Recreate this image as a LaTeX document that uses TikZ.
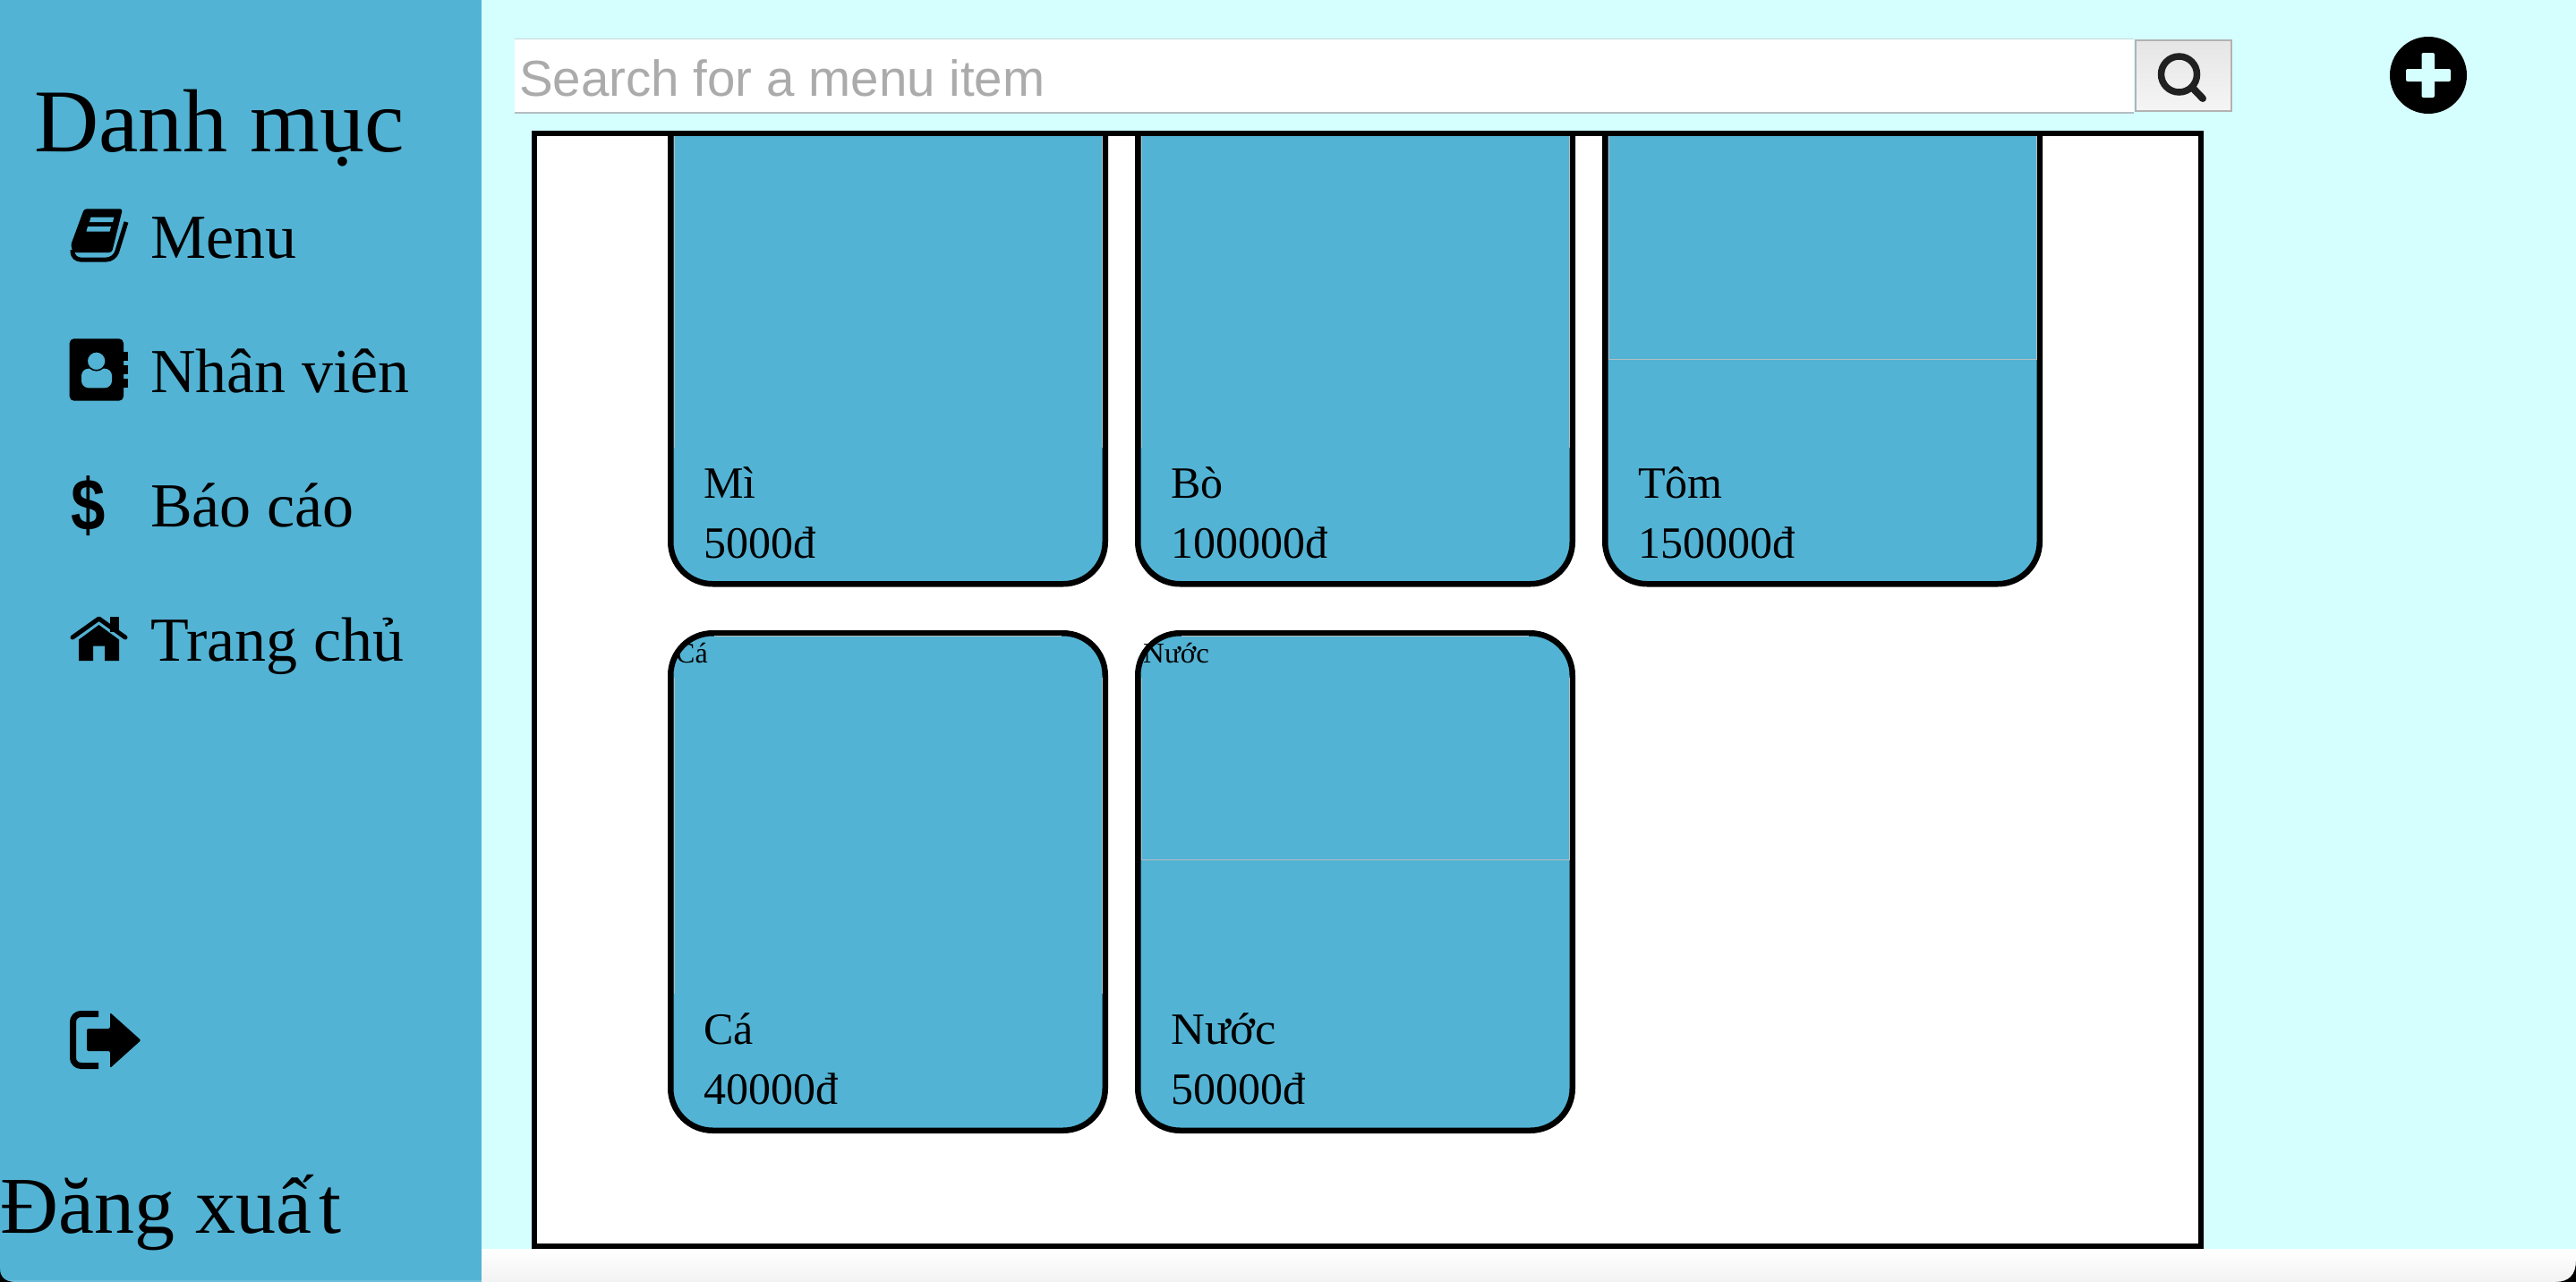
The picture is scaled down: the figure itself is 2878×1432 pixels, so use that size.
\documentclass[tikz,border=0pt]{standalone}
\usepackage{fontspec}
\usepackage{tikz}
\setmainfont{Liberation Serif}
\newfontfamily\searchfont{Liberation Sans}
\definecolor{pagebg}{HTML}{D5FFFF}
\definecolor{sideblue}{HTML}{53B3D4}
\definecolor{edgegray}{HTML}{B4BEC2}
\tikzset{
  bigtext/.style={font=\fontsize{100}{100}\selectfont, anchor=base west, inner sep=0pt},
  menutext/.style={font=\fontsize{70}{70}\selectfont, anchor=base west, inner sep=0pt},
  cardtext/.style={font=\fontsize{50}{50}\selectfont, anchor=base west, inner sep=0pt},
  alttext/.style={font=\fontsize{32}{32}\selectfont, anchor=base west, inner sep=0pt},
  menucard/.style={draw=black, line width=6.5pt, rounded corners=47pt, fill=sideblue,
    minimum width=485.5pt, minimum height=555.5pt, inner sep=0pt, outer sep=0pt},
  imgedge/.style={draw=edgegray, line width=1pt}
}

\begin{document}
\begin{tikzpicture}[x=1pt,y=-1pt]
  \useasboundingbox (0,0) rectangle (2878,1432);
  % Page and bottom strip
  \fill[pagebg] (0,0) rectangle (2878,1395);
  \shade[top color=white, bottom color=black!5] (538,1395) rectangle (2878,1432);
  \fill[black] (2878,1432) -- (2855,1432) .. controls (2870,1432) and (2878,1424) .. (2878,1408) -- cycle;

  % Sidebar
  \fill[sideblue] (0,0) rectangle (538,1432);
  \fill[sideblue!85!white] (0,1430) rectangle (538,1432);
  \fill[black] (0,1432) -- (15,1432) .. controls (5,1431) and (0,1426) .. (0,1417) -- cycle;
  \node[bigtext] (title) at (38,169) {Danh mục};
  \node[menutext] (menu) at (168,288) {Menu};
  \node[menutext] (staff) at (168,438) {Nhân viên};
  \node[menutext] (report) at (168,588) {Báo cáo};
  \node[menutext] (home) at (168,738) {Trang chủ};
  \node[bigtext, font=\fontsize{90}{90}\selectfont] (logout) at (0.5,1377) {Đăng xuấ\kern8pt t};

  % Book icon
  \fill[black, rounded corners=3pt] (94,233.3) -- (137,233.3) -- (125,282) -- (82,282) -- (79,274) -- cycle;
  \draw[black, line width=5pt, rounded corners=9pt] (81,279) -- (81,290) -- (128,290) -- (141,248);
  \fill[sideblue] (101.5,242.5) -- (127.5,242.5) -- (126,248) -- (100,248) -- cycle;
  \fill[sideblue] (98,253) -- (124,253) -- (122.5,258.5) -- (96.5,258.5) -- cycle;
  % Contact icon
  \fill[black, rounded corners=5pt] (77.7,378.3) rectangle (138,447.7);
  \fill[black] (136,393.3) rectangle (143,403.3);
  \fill[black] (136,408.3) rectangle (143,418.3);
  \fill[black] (136,423.3) rectangle (143,433.3);
  \fill[sideblue, rounded corners=8pt] (91,433.3) -- (91,411.7) -- (125,411.7) -- (125,433.3) -- cycle;
  \draw[black, fill=sideblue, line width=1.5pt] (107.7,403.3) circle (10.5pt);
  % Dollar icon
  \node[font={\searchfont\bfseries\fontsize{82}{82}\selectfont}, inner sep=0pt, xscale=0.84] (dollar) at (98.5,565) {\$};
  % House icon
  \fill[black] (122.5,689) rectangle (133,706);
  \draw[black, line width=5pt, line cap=round, line join=round] (81,712) -- (110.5,691) -- (140,712);
  \fill[black] (88,738) -- (88,714.5) -- (110.5,698) -- (133,714.5) -- (133,738) -- (117,738) -- (117,721.5) -- (104,721.5) -- (104,738) -- cycle;
  % Logout icon
  \draw[black, line width=7pt, rounded corners=9pt] (110,1132.5) -- (81.5,1132.5) -- (81.5,1190.5) -- (110,1190.5);
  \fill[black, rounded corners=2pt] (97,1149) -- (123,1149) -- (123,1131) -- (157.5,1162) -- (123,1193) -- (123,1174) -- (97,1174) -- cycle;

  % Search bar
  \node[fill=white, minimum width=1809pt, minimum height=83pt, inner sep=0pt, outer sep=0pt] (searchbox) at (1479.5,84.5) {};
  \draw[edgegray!60!pagebg, line width=1pt] (searchbox.north west) -- (searchbox.north east);
  \draw[edgegray, line width=1.5pt] (searchbox.south west) -- (searchbox.south east);
  \node[font={\searchfont\fontsize{56.5}{56.5}\selectfont}, text=black!33, anchor=base west, inner sep=0pt] (searchtext) at (580,107.5) {Search for a menu item};
  \node[draw=black!30, line width=2pt, top color=black!10, bottom color=black!4, minimum width=107pt, minimum height=79pt, inner sep=0pt, outer sep=0pt] (searchbtn) at (2439.5,84.5) {};
  \draw[black!87, line width=7.5pt] (2434.5,83) circle (20pt);
  \draw[black!87, line width=8pt, line cap=round] (2449,97.5) -- (2461,110);

  % Add button
  \fill[black] (2713,84) circle (43pt);
  \fill[pagebg, rounded corners=2pt] (2688,77) rectangle (2738,91);
  \fill[pagebg, rounded corners=2pt] (2705.5,59) rectangle (2720,109);

  % List box
  \node[draw=black, fill=white, line width=6pt, minimum width=1862pt, minimum height=1243pt, inner sep=0pt, outer sep=0pt] (listbox) at (1528,770.5) {};
  \begin{scope}
    \clip (600,152) rectangle (2456,1389);
    % Cards
    \node[menucard] (card_mi) at (992,374.5) {};
    \node[menucard] (card_bo) at (1514,374.5) {};
    \node[menucard] (card_tom) at (2036,374.5) {};
    \node[menucard] (card_ca) at (992,985) {};
    \node[menucard] (card_nuoc) at (1514,985) {};
  \end{scope}
  % Image edges on the cards
  \draw[imgedge] (753,152) -- (753,500);
  \draw[imgedge] (1231.25,152) -- (1231.25,500);
  \draw[imgedge] (1275,152) -- (1275,500);
  \draw[imgedge] (1753.25,152) -- (1753.25,500);
  \draw[imgedge] (1797,152) -- (1797,401) -- (2275.25,401) -- (2275.25,152);
  \draw[imgedge] (798,710.75) -- (1186,710.75);
  \draw[imgedge] (753,757) -- (753,1110);
  \draw[imgedge] (1231.25,757) -- (1231.25,1110);
  \draw[imgedge] (1320,710.75) -- (1708,710.75);
  \draw[imgedge] (1275,757) -- (1275,960) -- (1753.25,960) -- (1753.25,757);
  % Card labels
  \node[cardtext] (name_mi) at (786,556) {Mì};
  \node[cardtext] (price_mi) at (786,623) {5000đ};
  \node[cardtext] (name_bo) at (1308,556) {Bò};
  \node[cardtext] (price_bo) at (1308,623) {100000đ};
  \node[cardtext] (name_tom) at (1830,556) {Tôm};
  \node[cardtext] (price_tom) at (1830,623) {150000đ};
  \node[alttext] (alt_ca) at (755,740.7) {Cá};
  \node[cardtext] (name_ca) at (786,1166) {Cá};
  \node[cardtext] (price_ca) at (786,1233) {40000đ};
  \node[alttext, xscale=1.03] (alt_nuoc) at (1277,740.7) {Nước};
  \node[cardtext, xscale=1.05] (name_nuoc) at (1308,1166) {Nước};
  \node[cardtext] (price_nuoc) at (1308,1233) {50000đ};
\end{tikzpicture}
\end{document}
